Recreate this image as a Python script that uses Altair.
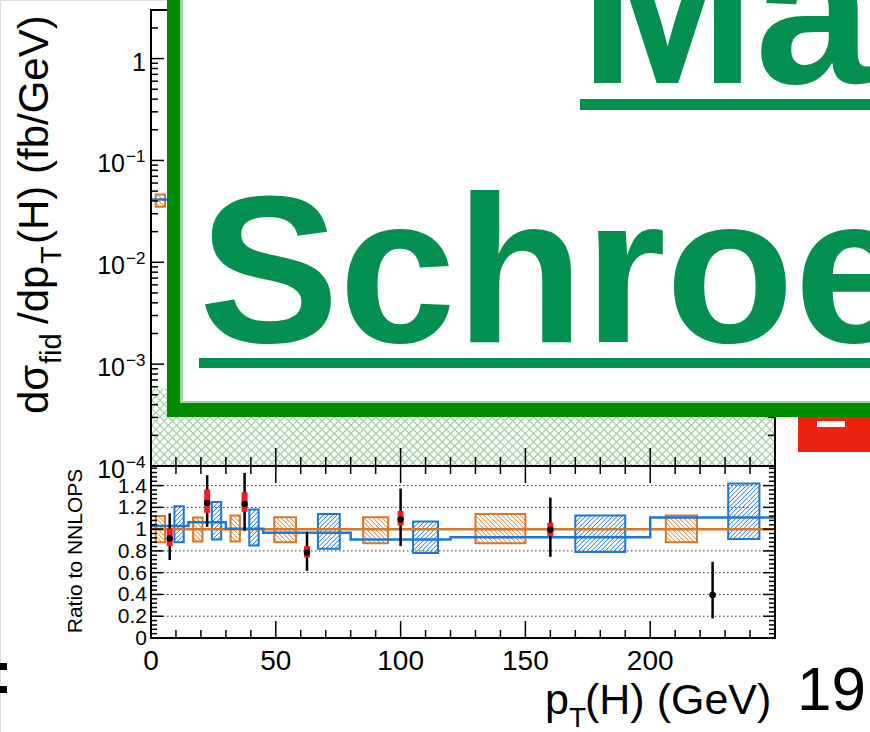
import math
import altair as alt
import pandas as pd

# ---------------- values ----------------
bin_lo = [0, 15, 30, 45, 80, 120, 200]
bin_hi = [15, 30, 45, 80, 120, 200, 250]
ratio_blue = [1.028, 1.064, 1.003, 0.966, 0.905, 0.925, 1.107]
ratio_nnlops = [1.0]
orange_unc_lo = [0.88, 0.887, 0.887, 0.88, 0.87, 0.87, 0.88]
orange_unc_hi = [1.12, 1.107, 1.125, 1.11, 1.11, 1.14, 1.125]
blue_unc_lo = [0.88, 0.905, 0.85, 0.82, 0.78, 0.79, 0.91]
blue_unc_hi = [1.21, 1.25, 1.18, 1.14, 1.07, 1.125, 1.42]

data_x = [7.5, 22.5, 37.5, 62.5, 100, 160, 225]
data_ratio = [0.915, 1.24, 1.232, 0.786, 1.089, 0.994, 0.394]
tot_lo = [0.716, 1.02, 0.984, 0.617, 0.844, 0.746, 0.18]
tot_hi = [1.145, 1.495, 1.517, 0.975, 1.373, 1.29, 0.70]
sys_lo = [0.844, 1.15, 1.159, 0.74, 1.034, 0.936, 0.38]
sys_hi = [1.006, 1.364, 1.339, 0.844, 1.168, 1.06, 0.41]

# upper panel (mostly hidden behind the overlay)
up_bin_lo = [0]
up_bin_hi = [15]
up_blue = [0.0413]
up_orange_lo = [0.0351]
up_orange_hi = [0.0462]
band_lo = [1e-4]
band_hi = [5.75e-4]

# axis ticks / labels
x_major = [0, 50, 100, 150, 200, 250]
x_labels = ["0", "50", "100", "150", "200"]
x_minor = [10, 20, 30, 40, 60, 70, 80, 90, 110, 120, 130, 140, 160, 170, 180, 190,
           210, 220, 230, 240]
r_major = [0, 0.2, 0.4, 0.6, 0.8, 1.0, 1.2, 1.4]
r_labels = ["0", "0.2", "0.4", "0.6", "0.8", "1", "1.2", "1.4"]
r_minor = [round(0.04 * i, 2) for i in range(1, 40) if i % 5 != 0]
log_major = [1e-4, 1e-3, 1e-2, 1e-1, 1]
log_base = ["10", "10", "10", "10", "1"]
log_sup = ["\u22124", "\u22123", "\u22122", "\u22121", ""]
log_minor = [k * 10.0 ** d for d in range(-4, 1) for k in range(2, 10) if k * 10.0 ** d <= 3]

# ---------------- layout constants ----------------
X0, X1, XMAX = 151, 775, 250
UP_TOP, UP_BOT = 10, 466
LO_TOP, LO_BOT = 466, 638
RMAX = 1.58
UDOM = [1e-4, 3]
LG0, LG1 = math.log10(UDOM[0]), math.log10(UDOM[1])

FONT = "Liberation Sans, Arial, Helvetica, sans-serif"
NARROW = "Liberation Sans Narrow, Arial Narrow, Liberation Sans, sans-serif"
ORANGE = "#d4792a"
BLUE = "#1f77d0"
RED = "#ff1a1a"
GREEN_DARK = "#008a00"
GREEN_LIGHT = "#9ed49e"
GREEN_TEXT = "#03904f"
HATCH_GREEN = "#98cf98"

ONE = pd.DataFrame({"k": [0]})


def xq(f):
    return alt.X(f"{f}:Q", scale=alt.Scale(domain=[0, XMAX], range=[X0, X1], nice=False, zero=False), axis=None)


def yl(f):
    return alt.Y(f"{f}:Q", scale=alt.Scale(domain=[0, RMAX], range=[LO_BOT, LO_TOP], nice=False, zero=False), axis=None)


def yu(f):
    return alt.Y(f"{f}:Q", scale=alt.Scale(type="log", domain=UDOM, range=[UP_BOT, UP_TOP], nice=False), axis=None)


def xpix(v):
    return X0 + v / XMAX * (X1 - X0)


def xdat(p):
    return (p - X0) / (X1 - X0) * XMAX


def ylpix(r):
    return LO_BOT - r / RMAX * (LO_BOT - LO_TOP)


def yldat(p):
    return (LO_BOT - p) / (LO_BOT - LO_TOP) * RMAX


def yupix(v):
    return UP_BOT - (math.log10(v) - LG0) / (LG1 - LG0) * (UP_BOT - UP_TOP)


def yudat(p):
    return 10 ** (LG0 + (UP_BOT - p) / (UP_BOT - UP_TOP) * (LG1 - LG0))


def hatch_segments(px0, px1, py0, py1, step, kind):
    segs = []
    if kind == "/":
        c = px0 + py0 + step / 2
        while c < px1 + py1:
            xa, xb = max(px0, c - py1), min(px1, c - py0)
            if xb - xa > 0.3:
                segs.append((xa, c - xa, xb, c - xb))
            c += step
    else:
        c = py0 - px1 + step / 2
        while c < py1 - px0:
            xa, xb = max(px0, py0 - c), min(px1, py1 - c)
            if xb - xa > 0.3:
                segs.append((xa, xa + c, xb, xb + c))
            c += step
    return segs


def hatch_rows(xlo, xhi, ylo, yhi, kind, step, ypix, ydat):
    rows = []
    for xa, ya, xb, yb in hatch_segments(xpix(xlo), xpix(xhi), ypix(yhi), ypix(ylo), step, kind):
        rows.append(dict(x=xdat(xa), x2=xdat(xb), y=ydat(ya), y2=ydat(yb)))
    return rows


def hatch_layer(rows, color, yfun, width=1.0):
    return alt.Chart(pd.DataFrame(rows)).mark_rule(color=color, strokeWidth=width).encode(
        x=xq("x"), x2="x2:Q", y=yfun("y"), y2="y2:Q")


def txt(s, x, y, size, angle=0, align="left", baseline="alphabetic", color="black",
        font=FONT, weight="normal"):
    kw = dict(align=align, baseline=baseline, font=font, fontSize=size, color=color, fontWeight=weight)
    if angle:
        kw["angle"] = angle
    return alt.Chart(ONE).mark_text(**kw).encode(x=alt.value(x), y=alt.value(y), text=alt.value(s))


def prect(x0, y0, x1, y1, color):
    return alt.Chart(ONE).mark_rect(color=color).encode(
        x=alt.value(x0), x2=alt.value(x1), y=alt.value(y0), y2=alt.value(y1))


def frame(x0, y0, x1, y1):
    return alt.Chart(ONE).mark_rect(fillOpacity=0, stroke="black", strokeWidth=2).encode(
        x=alt.value(x0), x2=alt.value(x1), y=alt.value(y0), y2=alt.value(y1))


layers = []

# ---- upper panel ----
band_rows = []
for kind in ("/", "\\"):
    band_rows += hatch_rows(0, XMAX, band_lo[0], band_hi[0], kind, 8.3, yupix, yudat)
layers.append(hatch_layer(band_rows, HATCH_GREEN, yu, 1.1))

up_box = pd.DataFrame({"lo": up_bin_lo, "hi": up_bin_hi, "ylo": up_orange_lo, "yhi": up_orange_hi})
up_box["x0"] = up_box["lo"] + (up_box["hi"] - up_box["lo"]) * 0.125
up_box["x1"] = up_box["lo"] + (up_box["hi"] - up_box["lo"]) * 0.375
uh = []
for _, r in up_box.iterrows():
    uh += hatch_rows(r.x0, r.x1, r.ylo, r.yhi, "\\", 5, yupix, yudat)
layers.append(hatch_layer(uh, ORANGE, yu))
layers.append(alt.Chart(up_box).mark_rect(fillOpacity=0, stroke=ORANGE, strokeWidth=2).encode(
    x=xq("x0"), x2="x1:Q", y=yu("ylo"), y2="yhi:Q"))
layers.append(alt.Chart(pd.DataFrame({"lo": up_bin_lo, "hi": up_bin_hi, "v": up_blue}))
              .mark_rule(color=BLUE, strokeWidth=2.5).encode(x=xq("lo"), x2="hi:Q", y=yu("v")))

# ---- ratio panel ----
grid = pd.DataFrame({"r": r_major[1:], "a": 0, "b": XMAX})
layers.append(alt.Chart(grid).mark_rule(color="#333333", strokeWidth=1, strokeDash=[1.5, 2.5]).encode(
    x=xq("a"), x2="b:Q", y=yl("r")))

boxes = pd.DataFrame({"lo": bin_lo, "hi": bin_hi, "olo": orange_unc_lo, "ohi": orange_unc_hi,
                      "blo": blue_unc_lo, "bhi": blue_unc_hi})
w = boxes["hi"] - boxes["lo"]
boxes["ox0"] = boxes["lo"] + w * 0.125
boxes["ox1"] = boxes["lo"] + w * 0.375
boxes["bx0"] = boxes["lo"] + w * 0.625
boxes["bx1"] = boxes["lo"] + w * 0.875
oh, bh = [], []
for _, r in boxes.iterrows():
    oh += hatch_rows(r.ox0, r.ox1, r.olo, r.ohi, "\\", 4.5, ylpix, yldat)
    bh += hatch_rows(r.bx0, r.bx1, r.blo, r.bhi, "/", 4.5, ylpix, yldat)
layers.append(hatch_layer(oh, ORANGE, yl))
layers.append(hatch_layer(bh, BLUE, yl))
layers.append(alt.Chart(boxes).mark_rect(fillOpacity=0, stroke=ORANGE, strokeWidth=2).encode(
    x=xq("ox0"), x2="ox1:Q", y=yl("olo"), y2="ohi:Q"))
layers.append(alt.Chart(boxes).mark_rect(fillOpacity=0, stroke=BLUE, strokeWidth=2).encode(
    x=xq("bx0"), x2="bx1:Q", y=yl("blo"), y2="bhi:Q"))

layers.append(alt.Chart(pd.DataFrame({"a": [0], "b": [XMAX], "r": ratio_nnlops}))
              .mark_rule(color=ORANGE, strokeWidth=2.5).encode(x=xq("a"), x2="b:Q", y=yl("r")))
step = pd.DataFrame({"x": bin_lo + [bin_hi[-1]], "r": ratio_blue + [ratio_blue[-1]]})
layers.append(alt.Chart(step).mark_line(color=BLUE, strokeWidth=2.5, interpolate="step-after").encode(
    x=xq("x"), y=yl("r")))

pts = pd.DataFrame({"x": data_x, "r": data_ratio, "tlo": tot_lo, "thi": tot_hi,
                    "slo": sys_lo, "shi": sys_hi})
layers.append(alt.Chart(pts).mark_rule(color="black", strokeWidth=2.5).encode(
    x=xq("x"), y=yl("tlo"), y2="thi:Q"))
layers.append(alt.Chart(pts).mark_rule(color=RED, strokeWidth=6).encode(
    x=xq("x"), y=yl("slo"), y2="shi:Q"))
layers.append(alt.Chart(pts).mark_circle(color="black", size=42, opacity=1).encode(
    x=xq("x"), y=yl("r")))

# ---- frames & ticks ----
layers.append(frame(X0, UP_TOP, X1, UP_BOT))
layers.append(frame(X0, LO_TOP, X1, LO_BOT))


def xticks(vals, y0, length):
    return alt.Chart(pd.DataFrame({"v": vals})).mark_rule(color="black", strokeWidth=1.5).encode(
        x=xq("v"), y=alt.value(y0), y2=alt.value(y0 + length))


def yticks(vals, yfun, x0, length):
    return alt.Chart(pd.DataFrame({"v": vals})).mark_rule(color="black", strokeWidth=1.5).encode(
        y=yfun("v"), x=alt.value(x0), x2=alt.value(x0 + length))


layers += [
    xticks(x_major, LO_BOT, -17), xticks(x_minor, LO_BOT, -8),
    xticks(x_major, LO_TOP, 17), xticks(x_minor, LO_TOP, 8),
    xticks(x_major, UP_BOT, -18), xticks(x_minor, UP_BOT, -9),
    xticks(x_major, UP_TOP, 18), xticks(x_minor, UP_TOP, 9),
    yticks(r_major, yl, X0, 12), yticks(r_minor, yl, X0, 6),
    yticks(r_major, yl, X1, -12), yticks(r_minor, yl, X1, -6),
    yticks(log_major, yu, X0, 13), yticks(log_minor, yu, X0, 7),
    yticks(log_major, yu, X1, -13), yticks(log_minor, yu, X1, -7),
]

# ---- tick labels ----
layers.append(alt.Chart(pd.DataFrame({"v": x_major[:5], "t": x_labels})).mark_text(
    font=NARROW, fontSize=28, align="center", baseline="alphabetic").encode(
    x=xq("v"), y=alt.value(670), text="t:N"))
layers.append(alt.Chart(pd.DataFrame({"v": r_major, "t": r_labels})).mark_text(
    font=FONT, fontSize=21, align="right", baseline="middle", dy=1).encode(
    x=alt.value(147), y=yl("v"), text="t:N"))
logdf = pd.DataFrame({"v": log_major, "b": log_base, "s": log_sup})
layers.append(alt.Chart(logdf[logdf.s != ""]).mark_text(
    font=FONT, fontSize=25, align="right", baseline="alphabetic", dy=12).encode(
    x=alt.value(125), y=yu("v"), text="b:N"))
layers.append(alt.Chart(logdf[logdf.s != ""]).mark_text(
    font=FONT, fontSize=17, align="left", baseline="alphabetic", dy=2).encode(
    x=alt.value(126), y=yu("v"), text="s:N"))
layers.append(alt.Chart(logdf[logdf.s == ""]).mark_text(
    font=FONT, fontSize=25, align="right", baseline="alphabetic", dy=12).encode(
    x=alt.value(146), y=yu("v"), text="b:N"))

# ---- axis titles ----
layers += [
    txt("Ratio to NNLOPS", 82, 551, 21, angle=270, align="center"),
    txt("d\u03c3", 48, 414, 42, angle=270),
    txt("fid", 61, 364, 29, angle=270),
    txt("/dp", 48, 324, 42, angle=270),
    txt("T", 61, 264, 29, angle=270),
    txt("(H)  (fb/GeV)", 48, 244, 42, angle=270),
    txt("p", 545, 714, 43),
    txt("T", 569, 727, 28),
    txt("(H) (GeV)", 585, 714, 43),
    txt("19", 797, 710, 62),
]

# ---- overlay (slide elements on top of the plot) ----
layers += [
    prect(0, 663, 7, 670, "black"),
    prect(0, 686, 7, 693, "black"),
    prect(798, 417, 900, 452, "#ee2211"),
    prect(817, 421, 845, 427, "white"),
    prect(167, -40, 900, 417, GREEN_DARK),
    prect(180, -40, 900, 403, GREEN_LIGHT),
    prect(183, -40, 900, 401, "white"),
    txt("Ma", 580, 83, 210, color=GREEN_TEXT, weight="bold"),
    prect(580, 99, 900, 110, GREEN_TEXT),
    txt("Schroe", 199, 342, 210, color=GREEN_TEXT, weight="bold"),
    prect(199, 358, 900, 368, GREEN_TEXT),
]

chart = alt.layer(*layers).resolve_scale(y="independent").properties(
    width=870, height=732, autosize=alt.AutoSizeParams(type="none"), padding=0
).configure_view(stroke=None).configure(background="white")

chart.save("out.html", embed_options={"renderer": "svg", "actions": False})
